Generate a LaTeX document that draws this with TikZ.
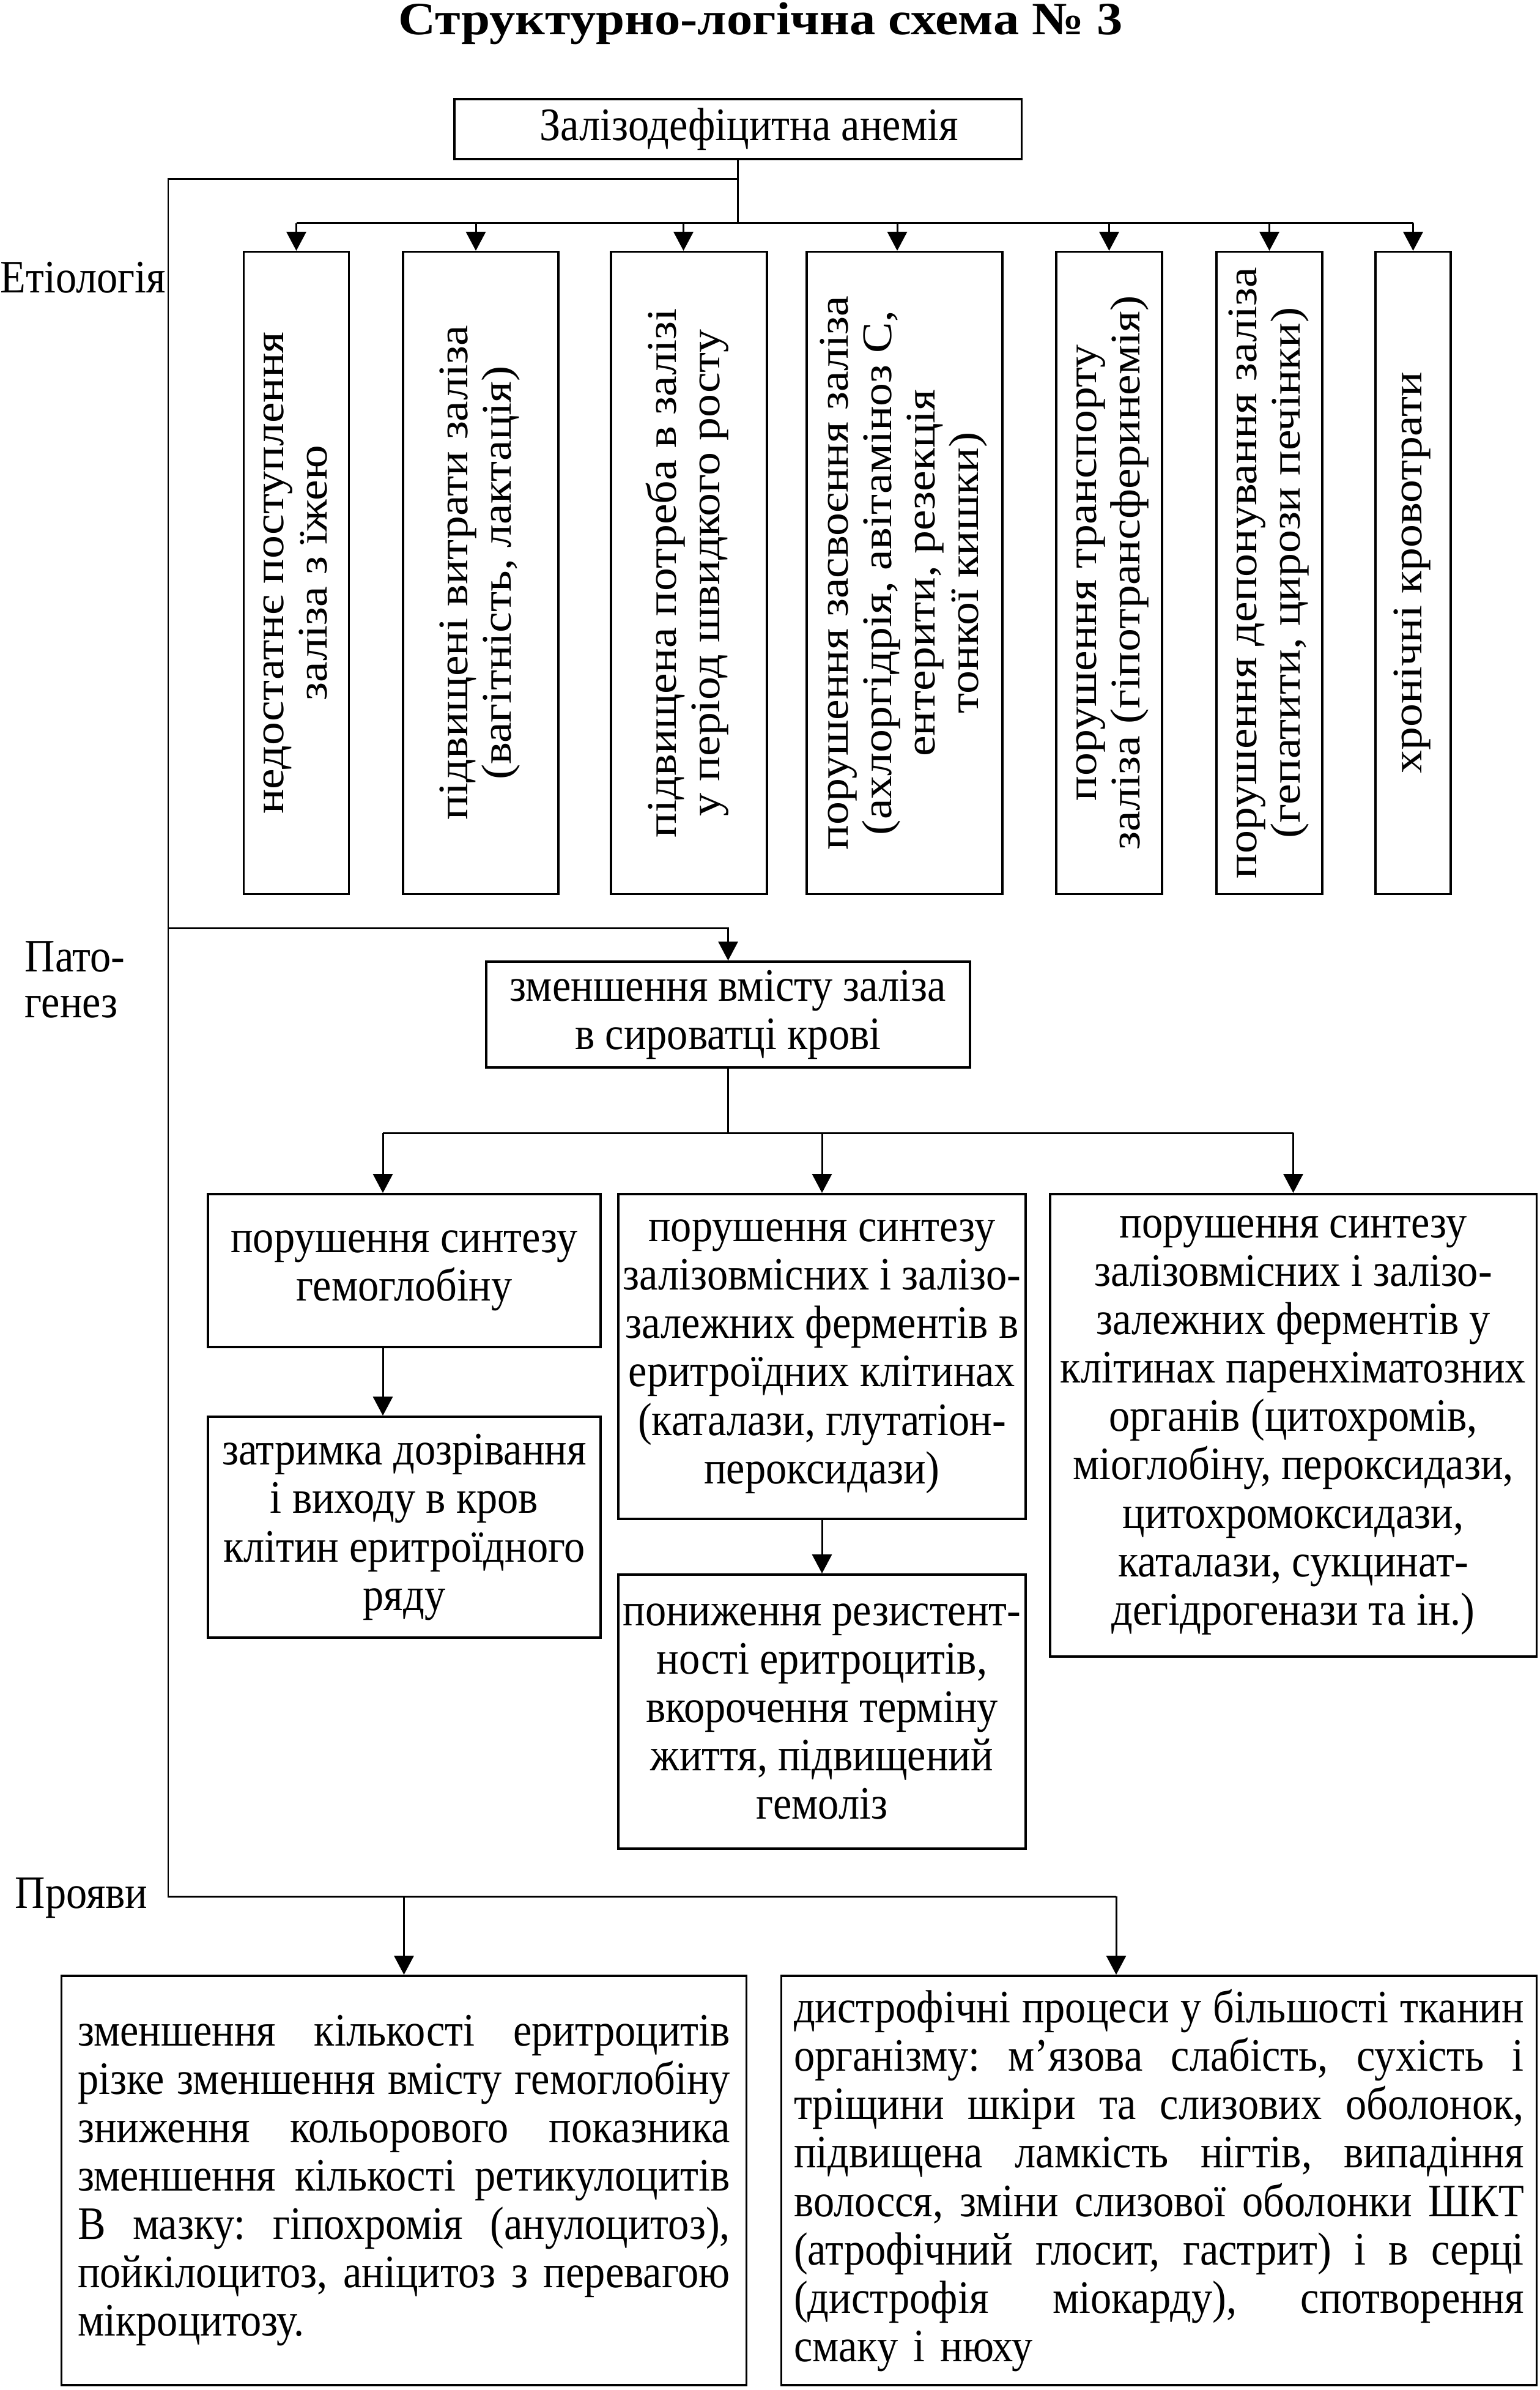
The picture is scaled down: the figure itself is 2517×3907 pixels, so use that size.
\documentclass[tikz,border=0pt]{standalone}
\usepackage{fontspec}
\usepackage{graphicx}
\setmainfont{Liberation Serif}
\newfontfamily\hfont{Liberation Serif}[FakeStretch=0.9]
\newfontfamily\vfont{Liberation Serif}[FakeStretch=1.1]
\newfontfamily\tfont{Liberation Serif}[FakeStretch=1.12]
\usetikzlibrary{arrows.meta,calc}
\newcommand\myhsz{\fontsize{21.6pt}{22.5pt}\selectfont}
\newcommand\myvsz{\fontsize{19.6pt}{20.2pt}\selectfont}
\newcommand\fjl[1]{\makebox[10.66cm][l]{#1}}
\newcommand\fjr[1]{\makebox[11.93cm][l]{#1}}
\newcommand\rotlines[1]{\rotatebox{90}{\vfont\myvsz\begin{tabular}{@{}c@{}}#1\end{tabular}}}
\begin{document}
\begin{tikzpicture}[x=0.01cm,y=-0.01cm,
  box/.style={draw, line width=1pt, inner xsep=0pt, inner ysep=2pt, align=center, font=\hfont\myhsz},
  ln/.style={line width=0.85pt},
  arr/.style={line width=0.85pt, -{Triangle[length=8.8pt,width=9.1pt]}},
  lab/.style={font=\hfont\myhsz, inner sep=0pt, anchor=base west}]
\fill[white] (0,0) rectangle (2517,3907);
\useasboundingbox (0,0) rectangle (2517,3907);

% title
\node[font=\tfont\bfseries\fontsize{21.5pt}{22pt}\selectfont, anchor=base, inner sep=0pt] (title) at (1244,57) {Структурно-логічна схема № 3};

% side labels
\node[lab] (etio) at (0,479) {Етіологія};
\node[lab] (pato1) at (40,1588) {Пато-};
\node[lab] (pato2) at (40,1663) {генез};
\node[lab] (proj) at (24,3119) {Прояви};

% top box
\node[box, minimum width=9.27cm, minimum height=0.98cm] (top) at (1206.5,211) {\hspace*{0.36cm}Залізодефіцитна анемія};

% etiology boxes
\node[box, minimum width=1.72cm, minimum height=10.49cm] (e1) at (484.5,936.5)
  {\rotlines{недостатнє поступлення\\заліза з їжею}};
\node[box, minimum width=2.54cm, minimum height=10.49cm] (e2) at (786,936.5)
  {\rotlines{підвищені витрати заліза\\(вагітність, лактація)}};
\node[box, minimum width=2.55cm, minimum height=10.49cm] (e3) at (1126.5,936.5)
  {\rotlines{підвищена потреба в залізі\\у період швидкого росту}};
\node[box, minimum width=3.20cm, minimum height=10.49cm] (e4) at (1479,936.5)
  {\rotlines{порушення засвоєння заліза\\(ахлоргідрія, авітаміноз C,\\ентерити, резекція\\тонкої кишки)}};
\node[box, minimum width=1.73cm, minimum height=10.49cm] (e5) at (1813.5,936.5)
  {\rotlines{порушення транспорту\\заліза (гіпотрансферинемія)}};
\node[box, minimum width=1.73cm, minimum height=10.49cm] (e6) at (2075.5,936.5)
  {\rotlines{порушення депонування заліза\\(гепатити, цирози печінки)}};
\node[box, minimum width=1.23cm, minimum height=10.49cm] (e7) at (2310.5,936.5)
  {\rotlines{хронічні кровотрати}};

% pathogenesis boxes
\node[box, minimum width=7.91cm, minimum height=1.73cm] (p0) at (1190.5,1658.5)
  {зменшення вмісту заліза\\в сироватці крові};
\node[box, minimum width=6.42cm, minimum height=2.50cm] (a1) at (661,2077)
  {порушення синтезу\\гемоглобіну};
\node[box, minimum width=6.42cm, minimum height=3.61cm] (a2) at (661,2496.5)
  {затримка дозрівання\\і виходу в кров\\клітин еритроїдного\\ряду};
\node[box, minimum width=6.66cm, minimum height=5.31cm] (b1) at (1344,2217.5)
  {порушення синтезу\\залізовмісних і залізо-\\залежних ферментів в\\еритроїдних клітинах\\(каталази, глутатіон-\\пероксидази)};
\node[box, minimum width=7.95cm, minimum height=7.56cm] (c1) at (2114.5,2330)
  {порушення синтезу\\залізовмісних і залізо-\\залежних ферментів у\\клітинах паренхіматозних\\органів (цитохромів,\\міоглобіну, пероксидази,\\цитохромоксидази,\\каталази, сукцинат-\\дегідрогенази та ін.)};
\node[box, minimum width=6.66cm, minimum height=4.48cm] (b2) at (1344,2798)
  {пониження резистент-\\ності еритроцитів,\\вкорочення терміну\\життя, підвищений\\гемоліз};

% manifestation boxes
\node[box, minimum width=11.19cm, minimum height=6.69cm, text width=10.66cm, align=left] (m1) at (660.5,3564.5)
  {\fjl{зменшення\hfill кількості\hfill еритроцитів}\\
   \fjl{різке\hfill зменшення\hfill вмісту\hfill гемоглобіну}\\
   \fjl{зниження\hfill кольорового\hfill показника}\\
   \fjl{зменшення\hfill кількості\hfill ретикулоцитів}\\
   \fjl{В\hfill мазку:\hfill гіпохромія\hfill (анулоцитоз),}\\
   \fjl{пойкілоцитоз,\hfill аніцитоз\hfill з\hfill перевагою}\\
   мікроцитозу.};
\node[box, minimum width=12.34cm, minimum height=6.69cm, text width=11.93cm, align=left] (m2) at (1895,3564.5)
  {\fjr{дистрофічні\hfill процеси\hfill у\hfill більшості\hfill тканин}\\
   \fjr{організму:\hfill м’язова\hfill слабість,\hfill сухість\hfill і}\\
   \fjr{тріщини\hfill шкіри\hfill та\hfill слизових\hfill оболонок,}\\
   \fjr{підвищена\hfill ламкість\hfill нігтів,\hfill випадіння}\\
   \fjr{волосся,\hfill зміни\hfill слизової\hfill оболонки\hfill ШКТ}\\
   \fjr{(атрофічний\hfill глосит,\hfill гастрит)\hfill і\hfill в\hfill серці}\\
   \fjr{(дистрофія\hfill міокарду),\hfill спотворення}\\
   смаку і нюху};

% junction coordinates
\coordinate (bus) at (1209,365);
\coordinate (lt) at (275,293);
\coordinate (lm) at (275,1517);
\coordinate (lb) at (275,3100);
\coordinate (pbus) at (1191,1852);
\coordinate (e2t) at ($(e2.north)+(-8,0)$);
\coordinate (e3t) at ($(e3.north)+(-9,0)$);
\coordinate (e4t) at ($(e4.north)+(-12,0)$);
\coordinate (a1t) at ($(a1.north)+(-35,0)$);
\coordinate (a1b) at ($(a1.south)+(-35,0)$);
\coordinate (a2t) at ($(a2.north)+(-35,0)$);
\coordinate (m2t) at ($(m2.north)+(-70,0)$);

% etiology connectors
\draw[ln] (top.south) -- (top.south |- bus);
\draw[ln] (e1.north |- bus) -- (e7.north |- bus);
\draw[arr] (e1.north |- bus) -- (e1.north);
\draw[arr] (e2t |- bus) -- (e2t);
\draw[arr] (e3t |- bus) -- (e3t);
\draw[arr] (e4t |- bus) -- (e4t);
\draw[arr] (e5.north |- bus) -- (e5.north);
\draw[arr] (e6.north |- bus) -- (e6.north);
\draw[arr] (e7.north |- bus) -- (e7.north);

% left spine
\draw[ln] (top.south |- lt) -- (lt) -- (lb) -- (m2t |- lb);
\draw[arr] (lm) -| (p0.north);
\draw[arr] (m1.north |- lb) -- (m1.north);
\draw[arr] (m2t |- lb) -- (m2t);

% pathogenesis connectors
\draw[ln] (p0.south) -- (p0.south |- pbus);
\draw[ln] (a1t |- pbus) -- (c1.north |- pbus);
\draw[arr] (a1t |- pbus) -- (a1t);
\draw[arr] (b1.north |- pbus) -- (b1.north);
\draw[arr] (c1.north |- pbus) -- (c1.north);
\draw[arr] (a1b) -- (a2t);
\draw[arr] (b1.south) -- (b2.north);
\end{tikzpicture}
\end{document}
